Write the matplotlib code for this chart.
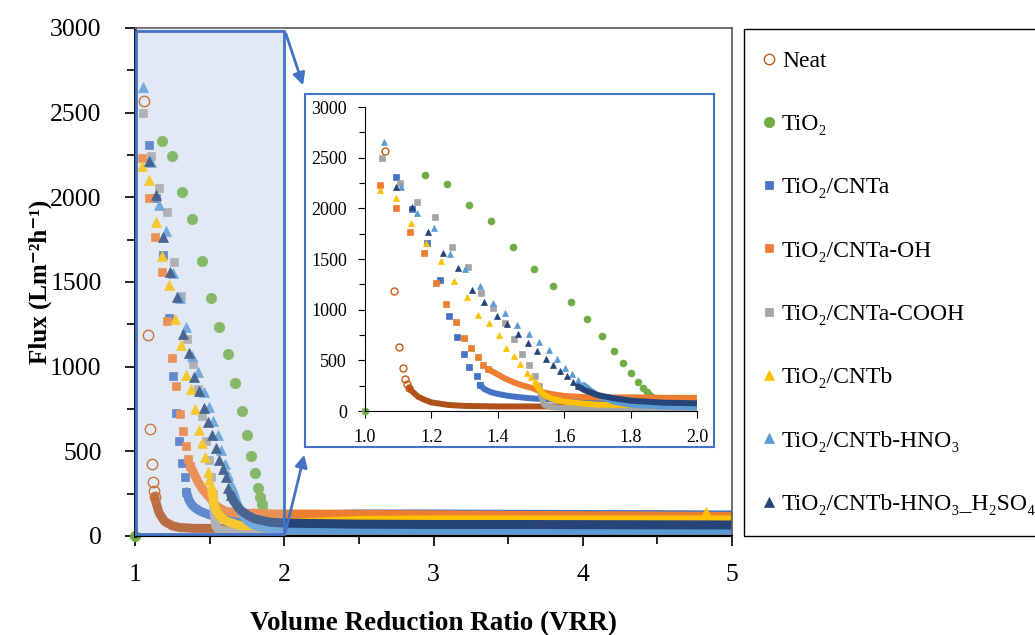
import matplotlib
matplotlib.use('Agg')
import numpy as np
import matplotlib.pyplot as plt
from matplotlib.lines import Line2D
from matplotlib.patches import Rectangle, FancyArrowPatch
from matplotlib.ticker import MultipleLocator, FormatStrFormatter

plt.rcParams['font.family'] = ['Liberation Serif', 'DejaVu Serif']

labels = ['Neat', 'TiO₂', 'TiO₂/CNTa', 'TiO₂/CNTa-OH', 'TiO₂/CNTa-COOH',
          'TiO₂/CNTb', 'TiO₂/CNTb-HNO₃', 'TiO₂/CNTb-HNO₃_H₂SO₄']
colors = ['#C55A11', '#70AD47', '#4472C4', '#ED7D31', '#A5A5A5',
          '#FFC000', '#5B9BD5', '#264478']
band_colors = ['#B0501A', '#70AD47', '#4472C4', '#ED7D31', '#A5A5A5',
               '#FFC000', '#5B9BD5', '#264478']
markers = ['o', 'o', 's', 's', 's', '^', '^', '^']

# sparse points (VRR, flux)
neat_x = [1.060, 1.087, 1.103, 1.114, 1.121, 1.128, 1.133]
neat_y = [2569, 1185, 629, 428, 316, 267, 230]
tio2_x = [1.0, 1.181, 1.246, 1.314, 1.381, 1.446, 1.508, 1.566, 1.621, 1.669,
          1.714, 1.749, 1.777, 1.802, 1.821, 1.836, 1.849]
tio2_y = [0, 2331, 2243, 2032, 1874, 1623, 1403, 1235, 1074, 906,
          741, 596, 471, 375, 286, 230, 191]
cnta_x = [1.093, 1.143, 1.186, 1.225, 1.254, 1.278, 1.297, 1.314, 1.336, 1.345]
cnta_y = [2312, 1996, 1660, 1288, 942, 728, 563, 431, 346, 260]
oh_x = [1.045, 1.093, 1.137, 1.179, 1.215, 1.245, 1.275, 1.299, 1.320, 1.340,
        1.355, 1.370]
oh_y = [2233, 1999, 1765, 1561, 1268, 1054, 883, 718, 619, 530, 454, 412]
cooh_x = [1.052, 1.104, 1.158, 1.212, 1.261, 1.310, 1.349, 1.387, 1.421, 1.450,
          1.474, 1.495, 1.512, 1.524]
cooh_y = [2496, 2246, 2058, 1913, 1617, 1419, 1166, 1014, 866, 708,
          560, 451, 349, 250]
cntb_x = [1.045, 1.094, 1.140, 1.184, 1.228, 1.267, 1.306, 1.340, 1.372, 1.403,
          1.426, 1.448, 1.468, 1.488, 1.499, 1.514, 4.825]
cntb_y = [2183, 2101, 1854, 1653, 1482, 1284, 1126, 952, 866, 751,
          626, 547, 464, 379, 333, 273, 140]
hno3_x = [1.056, 1.109, 1.158, 1.208, 1.255, 1.302, 1.345, 1.385, 1.423, 1.459,
          1.493, 1.524, 1.553, 1.579, 1.603, 1.623, 1.642, 1.659]
hno3_y = [2651, 2210, 1953, 1801, 1551, 1403, 1232, 1064, 968, 853,
          764, 678, 599, 510, 428, 362, 310, 257]
h2so4_x = [1.092, 1.141, 1.189, 1.236, 1.280, 1.322, 1.359, 1.397, 1.429, 1.462,
           1.492, 1.519, 1.544, 1.566, 1.588, 1.608, 1.626, 1.642]
h2so4_y = [2213, 2012, 1765, 1561, 1409, 1195, 1080, 938, 856, 757,
           672, 596, 517, 451, 398, 346, 286, 243]

# dense parts, where the markers merge into a band
neat_bx = [1.133, 1.14, 1.15, 1.16, 1.18, 1.20, 1.25, 1.30, 1.40, 1.60, 1.75,
           1.85, 1.95, 2.0, 2.5, 3.0, 3.5, 4.0, 4.5, 5.0]
neat_by = [230, 200, 170, 140, 110, 85, 60, 50, 45, 45, 40, 30, 15, 8, 5, 5, 4,
           4, 3, 3]
tio2_bx = [1.849, 1.86, 1.87, 1.88, 1.90, 1.93, 1.96, 2.0, 2.5, 3.0, 3.5, 4.0,
           4.5, 5.0]
tio2_by = [191, 158, 125, 92, 59, 40, 30, 20, 15, 14, 13, 12, 12, 12]
cnta_bx = [1.345, 1.36, 1.38, 1.40, 1.43, 1.46, 1.50, 1.55, 1.60, 1.70, 1.80,
           1.90, 2.0, 2.5, 3.0, 3.5, 4.0, 4.5, 5.0]
cnta_by = [260, 215, 185, 168, 150, 138, 125, 115, 110, 108, 110, 115, 122, 130,
           130, 128, 127, 126, 124]
oh_bx = [1.370, 1.39, 1.42, 1.45, 1.48, 1.50, 1.53, 1.56, 1.60, 1.70, 1.80,
         1.90, 2.0, 2.5, 3.0, 3.5, 4.0, 4.5, 5.0]
oh_by = [412, 379, 323, 280, 247, 230, 191, 168, 148, 132, 135, 130, 130, 128,
         125, 122, 120, 118, 115]
cooh_bx = [1.524, 1.53, 1.54, 1.56, 1.60, 1.80, 2.0, 2.5, 3.0, 3.5, 4.0, 4.5, 5.0]
cooh_by = [250, 150, 60, 38, 30, 30, 25, 22, 20, 20, 20, 20, 20]
cntb_bx = [1.514, 1.52, 1.53, 1.54, 1.56, 1.60, 1.65, 1.70, 1.80, 1.90, 2.0,
           2.5, 3.0, 3.5, 4.0, 4.5, 5.0]
cntb_by = [273, 240, 191, 158, 125, 92, 76, 62, 60, 62, 75, 92, 95, 95, 95, 95, 95]
hno3_bx = [1.659, 1.68, 1.70, 1.75, 1.80, 1.90, 2.0, 2.5, 3.0, 3.5, 4.0, 4.5, 5.0]
hno3_by = [257, 200, 158, 92, 62, 45, 38, 36, 36, 35, 35, 35, 35]
h2so4_bx = [1.642, 1.66, 1.70, 1.75, 1.80, 1.90, 2.0, 2.5, 3.0, 3.5, 4.0, 4.5, 5.0]
h2so4_by = [243, 207, 158, 125, 102, 82, 76, 70, 68, 68, 67, 66, 65]

pts_x = [neat_x, tio2_x, cnta_x, oh_x, cooh_x, cntb_x, hno3_x, h2so4_x]
pts_y = [neat_y, tio2_y, cnta_y, oh_y, cooh_y, cntb_y, hno3_y, h2so4_y]
band_x = [neat_bx, tio2_bx, cnta_bx, oh_bx, cooh_bx, cntb_bx, hno3_bx, h2so4_bx]
band_y = [neat_by, tio2_by, cnta_by, oh_by, cooh_by, cntb_by, hno3_by, h2so4_by]


def draw_series(a, sizes, lw, xmax):
    for i in range(len(labels)):
        a.plot(band_x[i], band_y[i], color=band_colors[i], lw=lw,
               solid_capstyle='round', solid_joinstyle='round', zorder=2)
        xs = np.array(pts_x[i])
        ys = np.array(pts_y[i])
        keep = xs <= xmax
        face = 'none' if i == 0 else colors[i]
        a.plot(xs[keep], ys[keep], ls='none', marker=markers[i],
               ms=sizes[markers[i]], mfc=face, mec=colors[i],
               mew=1.0 if i == 0 else 0.5, zorder=2, clip_on=False)


fig = plt.figure(figsize=(10.35, 6.35), dpi=100)

# main chart
ax = fig.add_axes([135 / 1035, 1 - 536 / 635, 597 / 1035, 508 / 635])
draw_series(ax, {'o': 7.5, 's': 6.2, '^': 7.0}, 6.5, 5.0)
ax.set_xlim(1, 5)
ax.set_ylim(0, 3000)
ax.xaxis.set_major_locator(MultipleLocator(1))
ax.xaxis.set_minor_locator(MultipleLocator(0.5))
ax.yaxis.set_major_locator(MultipleLocator(500))
ax.yaxis.set_minor_locator(MultipleLocator(250))
ax.tick_params(axis='both', which='major', direction='out', length=7,
               width=1.2, labelsize=18.5, pad=13)
ax.tick_params(axis='both', which='minor', direction='out', length=6, width=1.2)
ax.tick_params(axis='y', which='major', pad=17)
for s in ['top', 'right']:
    ax.spines[s].set_color('#595959')
    ax.spines[s].set_linewidth(1.2)
ax.spines['left'].set_linewidth(2.0)
ax.spines['bottom'].set_linewidth(1.6)

# zoom window marking VRR 1-2
ax.add_patch(Rectangle((1.0, 0), 1.0, 3000, facecolor='#E3EAF6',
                       edgecolor='none', zorder=1))
ax.add_patch(Rectangle((1.0, 0), 1.0, 3000, facecolor='#DCE5F4', alpha=0.2,
                       edgecolor='none', zorder=3))
ax.add_patch(Rectangle((1.01, 10), 0.99, 2970, fill=False, edgecolor='#4472C4',
                       lw=2.0, zorder=4, clip_on=False))

ax.set_xlabel('Volume Reduction Ratio (VRR)', fontsize=19.5, fontweight='bold')
ax.set_ylabel('Flux (Lm⁻²h⁻¹)', fontsize=18, fontweight='bold')
ax.xaxis.set_label_coords(0.5, -0.148)
ax.yaxis.set_label_coords(-0.139, 0.5)

# inset frame and inset chart
frame = fig.add_axes([305 / 1035, 1 - 447 / 635, 409 / 1035, 353 / 635])
frame.set_xticks([])
frame.set_yticks([])
frame.set_facecolor('white')
for s in frame.spines.values():
    s.set_color('#4472C4')
    s.set_linewidth(1.5)

ins = fig.add_axes([365 / 1035, 1 - 411 / 635, 332 / 1035, 304 / 635])
ins.patch.set_alpha(0)
draw_series(ins, {'o': 5.0, 's': 4.4, '^': 4.8}, 4.3, 2.0)
ins.set_xlim(1.0, 2.0)
ins.set_ylim(0, 3000)
ins.xaxis.set_major_locator(MultipleLocator(0.2))
ins.xaxis.set_major_formatter(FormatStrFormatter('%.1f'))
ins.yaxis.set_major_locator(MultipleLocator(500))
ins.yaxis.set_minor_locator(MultipleLocator(250))
ins.tick_params(axis='both', which='major', direction='out', length=5,
                width=0.8, labelsize=13, pad=8)
ins.tick_params(axis='y', which='minor', direction='out', length=4, width=0.8)
ins.spines['top'].set_visible(False)
ins.spines['right'].set_visible(False)
for s in ['left', 'bottom']:
    ins.spines[s].set_linewidth(0.8)


def px(x, y):
    return (x / 1035, 1 - y / 635)


for a, b in [((285, 31), (304, 88)), ((285, 534), (305, 452))]:
    fig.add_artist(FancyArrowPatch(px(*a), px(*b), transform=fig.transFigure,
                                   arrowstyle='-|>', mutation_scale=18,
                                   color='#4472C4', lw=2.0, zorder=10))

# legend
handles = []
for i in range(len(labels)):
    face = 'none' if i == 0 else colors[i]
    ms = {'o': 7.5, 's': 6.0, '^': 6.5}[markers[i]]
    handles.append(Line2D([], [], ls='none', marker=markers[i], ms=ms,
                          mfc=face, mec=colors[i], mew=1.0 if i == 0 else 0.5))
leg = fig.legend(handles, labels, loc='upper left',
                 bbox_to_anchor=px(744, 29), borderaxespad=0,
                 fontsize=17, labelspacing=1.77, handlelength=0.35,
                 handletextpad=0.36, borderpad=0.9, fancybox=False,
                 edgecolor='black', framealpha=1)
leg.get_frame().set_linewidth(1.0)

fig.savefig('out.png', dpi=100)
